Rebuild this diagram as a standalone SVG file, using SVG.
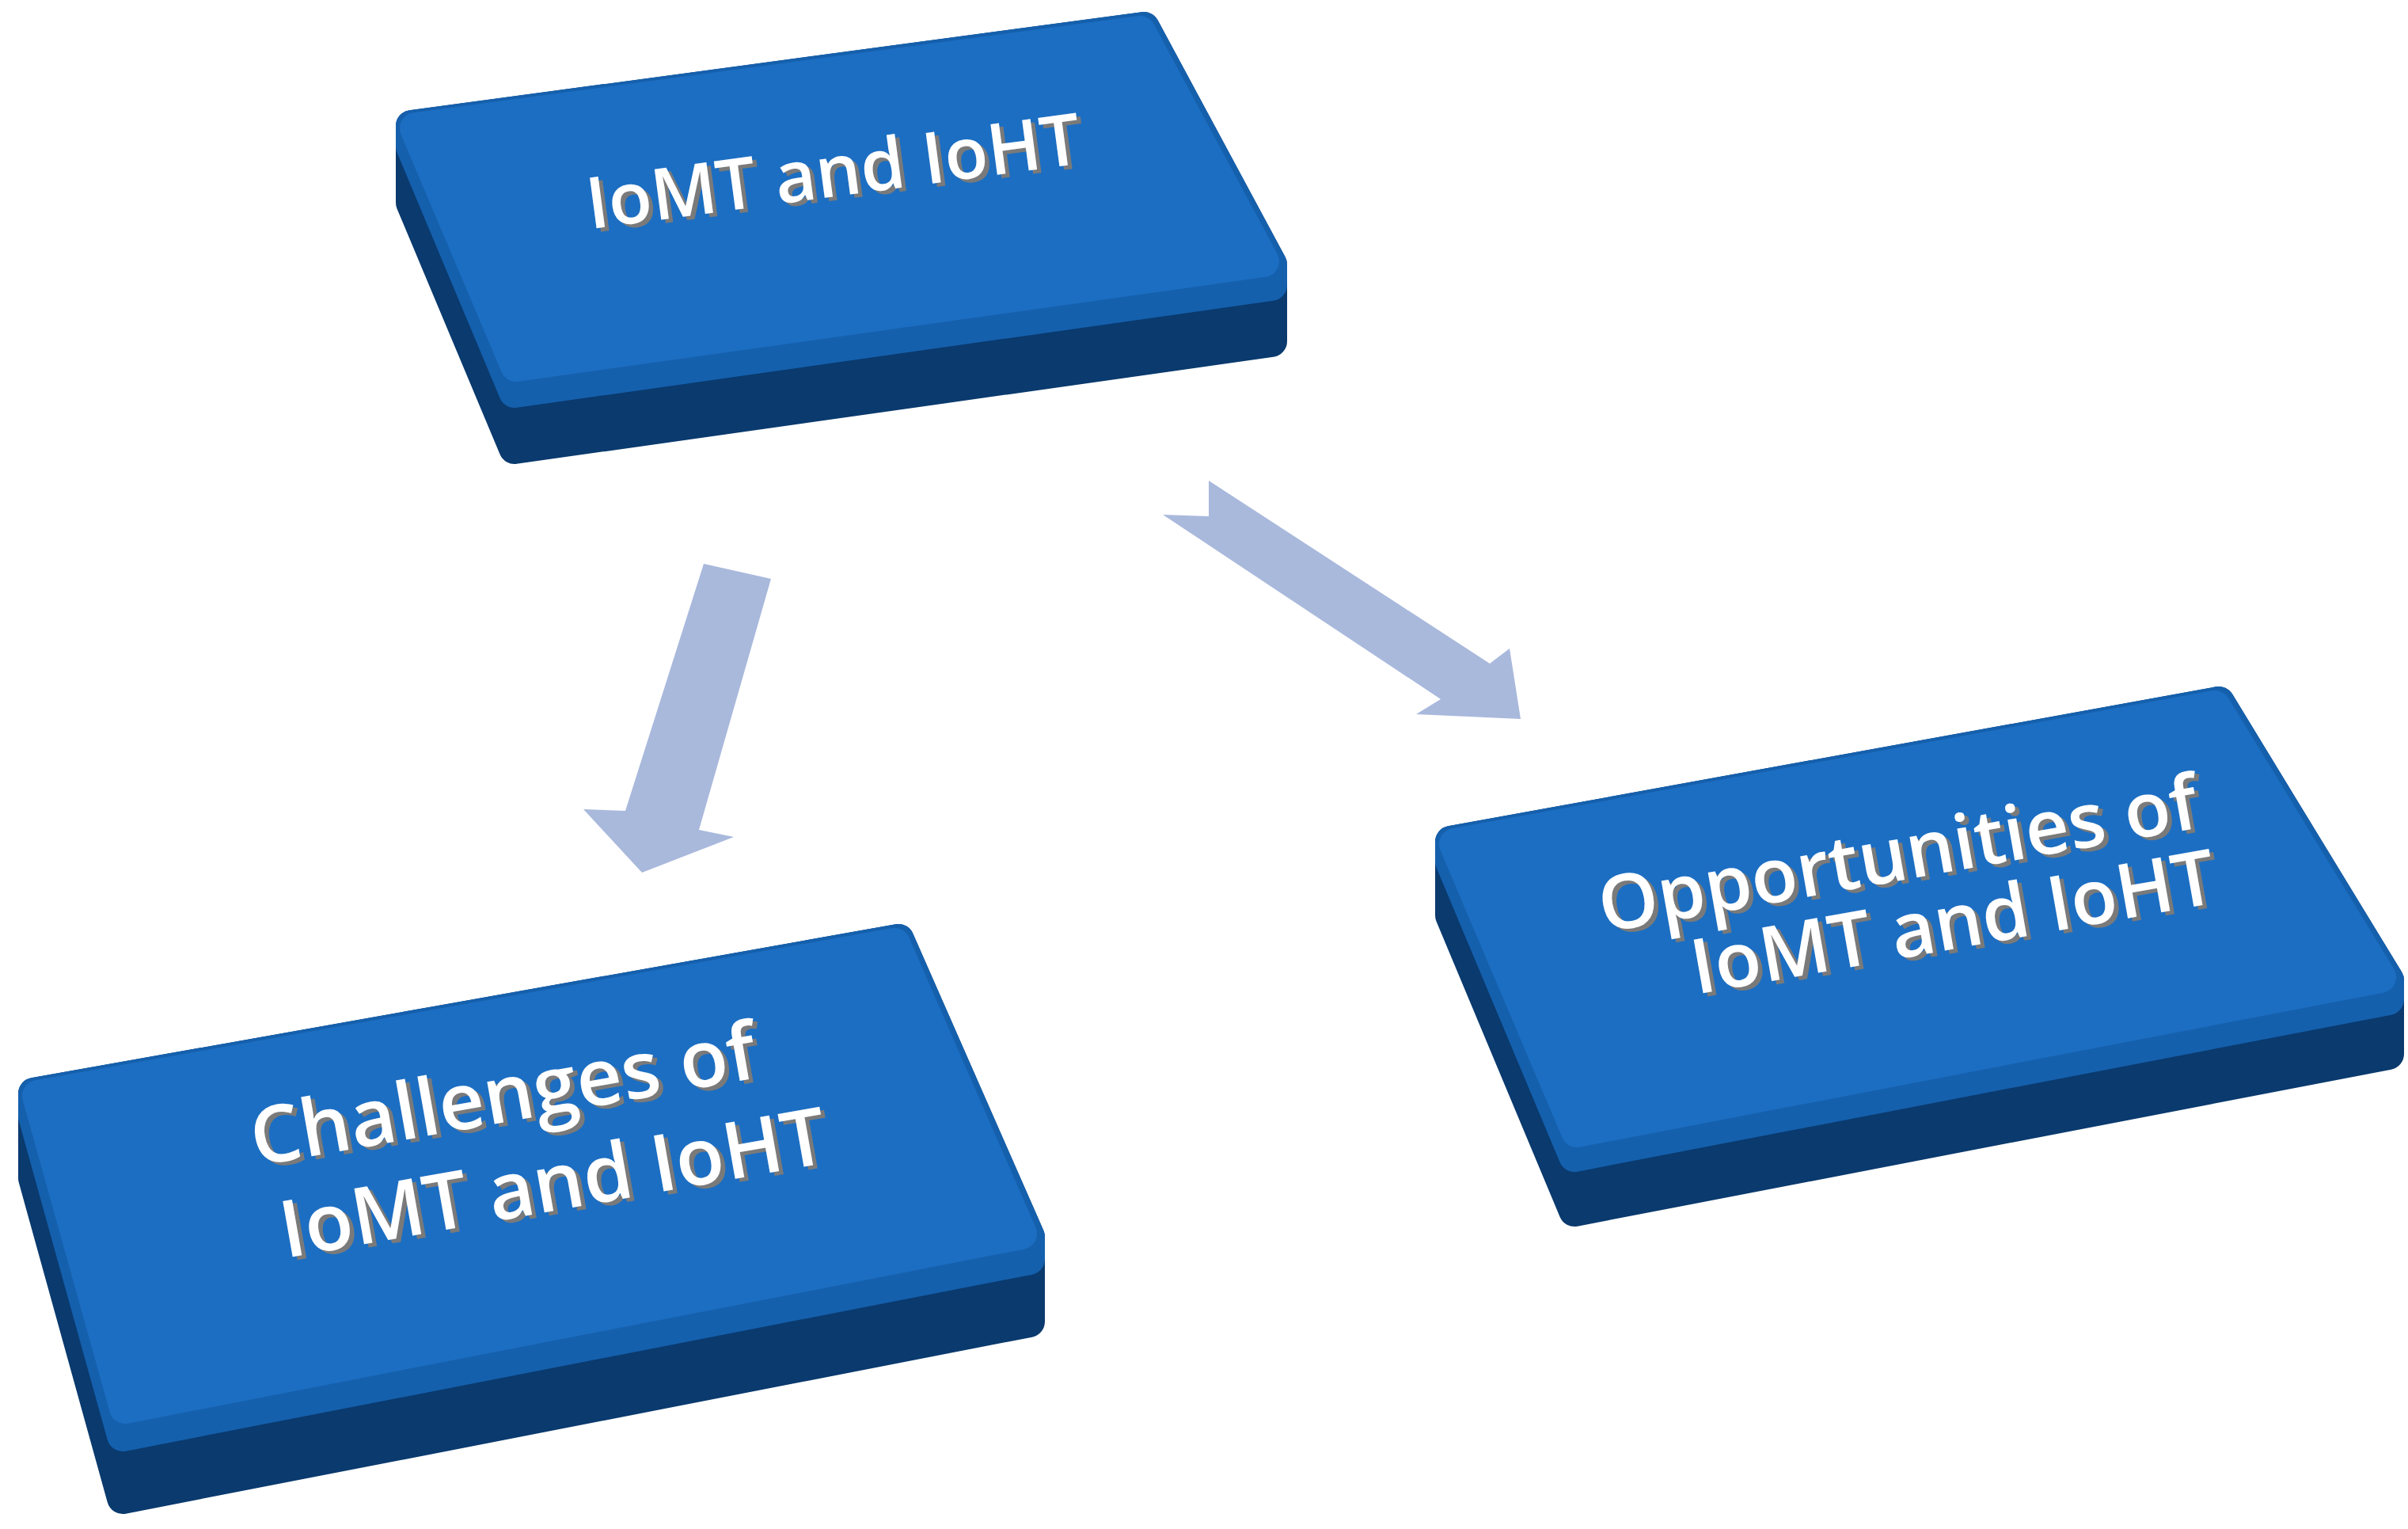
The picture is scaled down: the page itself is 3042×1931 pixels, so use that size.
<svg xmlns="http://www.w3.org/2000/svg" width="3042" height="1931" viewBox="0 0 3042 1931">
<style>
.side{fill:#0a3a6e;stroke:#0a3a6e;stroke-width:40;stroke-linejoin:round}
.face{fill:#1c6ec2;stroke:#1c6ec2;stroke-width:40;stroke-linejoin:round}
.edge{fill:#1560ad;stroke:#1560ad;stroke-width:40;stroke-linejoin:round}
.t{font-family:"Open Sans","Liberation Sans",sans-serif;font-weight:600;text-anchor:middle;fill:#ffffff}
.s{font-family:"Open Sans","Liberation Sans",sans-serif;font-weight:600;text-anchor:middle;fill:#7a7a7a}
.arr{fill:#a9b9dc}
</style>
<rect width="3042" height="1931" fill="#ffffff"/>
<g id="connectors">
<polygon class="arr" points="889,712 974,731 883,1048 927,1057 811,1102 737,1022 790,1024"/>
<polygon class="arr" points="1527,607 1882,838 1907,819 1921,908 1789,902 1820,883 1469,650 1527,652"/>
</g>
<g id="node-top">
<polygon class="side" points="520,159 1445,35 1606,334 1606,431 650,566 520,256"/>
<polygon class="edge" points="520,159 1445,35 1606,334 1606,360 650,495 520,185"/>
<polygon class="face" points="525,162 1440,40 1596,330 652,462"/>
<g transform="rotate(-7.6 1053 217)">
<text class="s" x="1058" y="253" font-size="90">IoMT and IoHT</text>
<text class="t" x="1053" y="248" font-size="90">IoMT and IoHT</text>
</g>
</g>
<g id="node-challenges">
<polygon class="side" points="43,1381 1135,1187 1300,1562 1300,1669 155,1892 43,1488"/>
<polygon class="edge" points="43,1381 1135,1187 1300,1562 1300,1590 155,1813 43,1410"/>
<polygon class="face" points="48,1384 1130,1192 1290,1558 158,1778"/>
<g transform="rotate(-10 670 1440)">
<text class="s" x="651" y="1417" font-size="100">Challenges of</text>
<text class="t" x="646" y="1412" font-size="100">Challenges of</text>
<text class="s" x="694" y="1538" font-size="100">IoMT and IoHT</text>
<text class="t" x="689" y="1533" font-size="100">IoMT and IoHT</text>
</g>
</g>
<g id="node-opportunities">
<polygon class="side" points="1833,1063 2803,887 3017,1238 3017,1331 1989,1529 1833,1156"/>
<polygon class="edge" points="1833,1063 2803,887 3017,1238 3017,1262 1989,1460 1833,1088"/>
<polygon class="face" points="1838,1066 2798,892 3007,1234 1992,1429"/>
<g transform="rotate(-10 2430 1125)">
<text class="s" x="2411" y="1112" font-size="96">Opportunities of</text>
<text class="t" x="2406" y="1107" font-size="96">Opportunities of</text>
<text class="s" x="2465" y="1209" font-size="96">IoMT and IoHT</text>
<text class="t" x="2460" y="1204" font-size="96">IoMT and IoHT</text>
</g>
</g>
</svg>
